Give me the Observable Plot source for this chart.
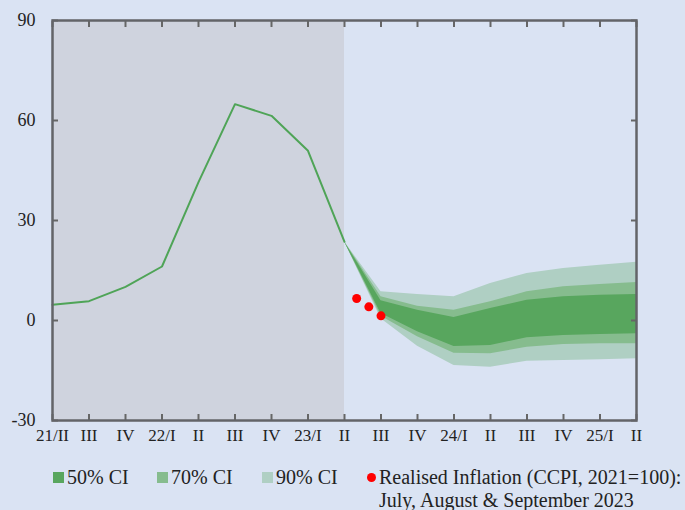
<!DOCTYPE html>
<html>
<head>
<meta charset="utf-8">
<script src="https://cdn.jsdelivr.net/npm/d3@7"></script>
<script src="https://cdn.jsdelivr.net/npm/@observablehq/plot@0.6"></script>
<style>
  html, body { margin: 0; padding: 0; background: #dae3f3; }
  #wrap { position: relative; width: 685px; height: 510px; overflow: hidden; font-family: "Liberation Serif", "DejaVu Serif", serif; color: #222; }
  .lg { position: absolute; font-size: 20px; line-height: 22px; white-space: nowrap; }
  .sw { position: absolute; width: 11px; height: 11px; }
  .dot { position: absolute; width: 9px; height: 9px; border-radius: 50%; background: #ff0000; }
</style>
</head>
<body>
<div id="wrap"></div>
<script>
// ---- data ----
const quarterLabels = ["21/II","III","IV","22/I","II","III","IV","23/I","II","III","IV","24/I","II","III","IV","25/I","II"];
const yTicks = [-30, 0, 30, 60, 90];

// historical CCPI inflation (%), 21/II .. 23/II
const histValues = [4.7, 5.8, 10.1, 16.2, 41.5, 64.9, 61.4, 50.9, 23.6];

// fan chart bounds, 23/II .. 25/II
const fanLow90  = [23.6, 0.5, -7.7, -13.5, -14.0, -12.2, -12.0, -11.8, -11.5];
const fanLow70  = [23.6, 1.3, -4.9,  -9.8, -10.0,  -8.0,  -7.2,  -7.0,  -7.0];
const fanLow50  = [23.6, 2.1, -3.4,  -7.8,  -7.5,  -5.2,  -4.5,  -4.2,  -4.0];
const fanHigh50 = [23.6, 5.9,  3.1,   0.9,   3.6,   6.1,   7.1,   7.6,   7.8];
const fanHigh70 = [23.6, 7.1,  4.3,   3.1,   5.6,   8.6,  10.1,  10.8,  11.4];
const fanHigh90 = [23.6, 8.6,  7.8,   7.1,  11.1,  14.1,  15.6,  16.6,  17.5];

// realised monthly inflation: July, August, September 2023 (quarter index of 23/II = 8)
const realisedMonths = ["July 2023", "August 2023", "September 2023"];
const realisedQuarterPos = [8 + 1/3, 8 + 2/3, 9];
const realisedValues = [6.6, 4.1, 1.4];

const historyShade = [{x1: 0, x2: 8}];

// ---- build tables ----
const hist = histValues.map((v, i) => ({x: i, y: v}));
const fan = fanLow90.map((_, i) => ({
  x: 8 + i,
  l90: fanLow90[i], h90: fanHigh90[i],
  l70: fanLow70[i], h70: fanHigh70[i],
  l50: fanLow50[i], h50: fanHigh50[i]
}));
const realised = realisedValues.map((v, i) => ({x: realisedQuarterPos[i], y: v, m: realisedMonths[i]}));
const xt = quarterLabels.map((_, i) => i);

const c50 = "#58a65e", c70 = "#86bc8e", c90 = "#afcfc3";

const chart = Plot.plot({
  width: 685,
  height: 452,
  marginLeft: 52,
  marginRight: 49,
  marginTop: 20,
  marginBottom: 32,
  style: { background: "transparent", fontFamily: "'Liberation Serif', 'DejaVu Serif', serif", fontSize: "17px", color: "#222" },
  x: { type: "linear", domain: [0, 16] },
  y: { domain: [-30, 90] },
  marks: [
    Plot.rect(historyShade, { x1: "x1", x2: "x2", y1: -30, y2: 90, fill: "#cfd3de" }),
    Plot.areaY(fan, { x: "x", y1: "l90", y2: "h90", fill: c90 }),
    Plot.areaY(fan, { x: "x", y1: "l70", y2: "h70", fill: c70 }),
    Plot.areaY(fan, { x: "x", y1: "l50", y2: "h50", fill: c50 }),
    Plot.line(hist, { x: "x", y: "y", stroke: "#4fa457", strokeWidth: 2 }),
    Plot.dot(realised, { x: "x", y: "y", r: 4.5, fill: "#ff0000", stroke: "none" }),
    // labels
    Plot.axisX({ anchor: "bottom", ticks: xt, tickSize: 0, tickPadding: 8, tickFormat: i => quarterLabels[i], fontSize: 17 }),
    Plot.axisY({ anchor: "left", ticks: yTicks, tickSize: 0, tickPadding: 17, tickFormat: d => `${d}`, fontSize: 18 }),
    // inward ticks
    Plot.axisX({ anchor: "bottom", ticks: xt, tickSize: -6, tickFormat: () => "", stroke: "#666", strokeWidth: 2 }),
    Plot.axisX({ anchor: "top", ticks: xt, tickSize: -6, tickFormat: () => "", stroke: "#666", strokeWidth: 2 }),
    Plot.axisY({ anchor: "left", ticks: yTicks, tickSize: -6, tickFormat: () => "", stroke: "#666", strokeWidth: 2 }),
    Plot.axisY({ anchor: "right", ticks: yTicks, tickSize: -6, tickFormat: () => "", stroke: "#666", strokeWidth: 2 }),
    Plot.frame({ stroke: "#636468", strokeWidth: 2.5 })
  ]
});

const wrap = document.getElementById("wrap");
wrap.appendChild(chart);
chart.style.position = "absolute";
chart.style.left = "0px";
chart.style.top = "0px";

// legend
const legendItems = [
  { kind: "sw", color: c50, x: 53, text: "50% CI" },
  { kind: "sw", color: c70, x: 157, text: "70% CI" },
  { kind: "sw", color: c90, x: 262, text: "90% CI" },
  { kind: "dot", color: "#ff0000", x: 367, text: "Realised Inflation (CCPI, 2021=100):" }
];
const lgY = 466;
for (const it of legendItems) {
  const s = document.createElement("div");
  s.className = it.kind;
  if (it.kind === "sw") { s.style.background = it.color; s.style.left = it.x + "px"; s.style.top = (lgY + 6) + "px"; }
  else { s.style.left = it.x + "px"; s.style.top = (lgY + 7) + "px"; }
  wrap.appendChild(s);
  const t = document.createElement("div");
  t.className = "lg";
  t.textContent = it.text;
  t.style.left = (it.x + (it.kind === "sw" ? 14 : 12)) + "px";
  t.style.top = lgY + "px";
  wrap.appendChild(t);
}
const l2 = document.createElement("div");
l2.className = "lg";
l2.textContent = "July, August & September 2023";
l2.style.left = "379px";
l2.style.top = (lgY + 23) + "px";
wrap.appendChild(l2);
</script>
</body>
</html>
